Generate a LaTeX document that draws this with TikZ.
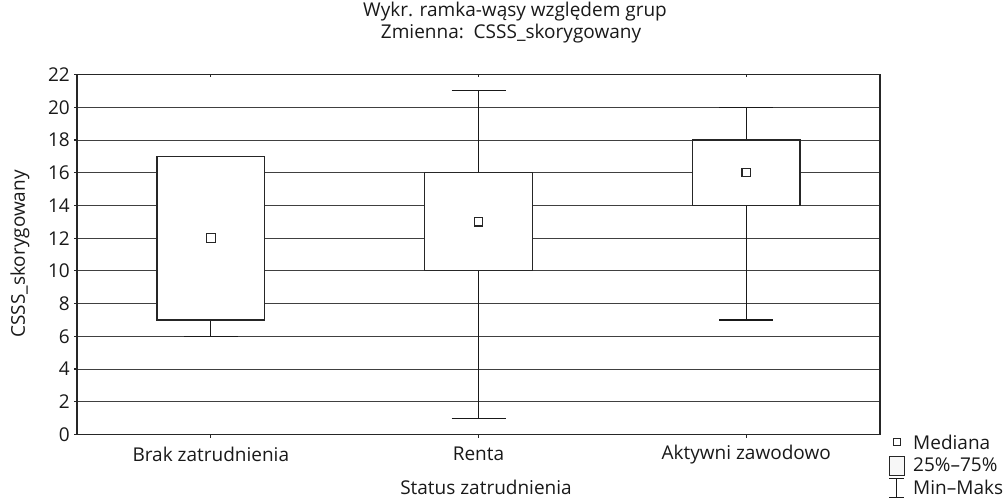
\documentclass[tikz,border=0pt]{standalone}
\usepackage{fontspec}
\setmainfont{Open Sans}
\usetikzlibrary{positioning}

\tikzset{
  grid line/.style={draw=black!75, line width=0.9pt},
  frame line/.style={draw=black!85, line width=1.1pt},
  box/.style={draw=black!85, fill=white, line width=1.1pt},
  whisker/.style={draw=black!90, line width=1.1pt},
  median/.style={draw=black!85, fill=white, line width=1.1pt, minimum size=8.5pt,
    inner sep=0pt, rectangle},
  lbl/.style={font=\fontsize{19}{22}\selectfont, text=black!90, inner sep=0pt}
}

\begin{document}
\begin{tikzpicture}[x=1pt,y=1pt]
  \useasboundingbox (0,0) rectangle (1008,498);
  % titles
  \node[lbl] (title) at (515,486) {Wykr. ramka-wąsy względem grup};
  \node[lbl] (subtitle) at (511,464) {Zmienna:\ \ CSSS\_skorygowany};
  \node[lbl] (xlabel) at (486,11) {Status zatrudnienia};
  \node[lbl, rotate=90] (ylabel) at (20,244) {CSSS\_skorygowany};
  \begin{scope}[shift={(77,63.5)}, y=16.3636pt]
    % grid
    \foreach \v in {2,4,...,20}
      \draw[grid line] (0,\v) -- (803,\v);
    \foreach \v in {0,2,...,22} {
      \draw[frame line] (-3,\v) -- (0,\v);
      \node[lbl, anchor=east] (ytick\v) at (-7,\v) {\v};
    }
    % boxes: name/center/min/q1/median/q3/max
    \foreach \nm/\c/\lo/\qa/\md/\qb/\hi/\txt in {
        brak/133.8/6/7/12/17/17/Brak zatrudnienia,
        renta/401.5/1/10/13/16/21/Renta,
        aktyw/669.2/7/14/16/18/20/Aktywni zawodowo} {
      \draw[whisker] (\c,\lo) -- (\c,\hi);
      \draw[whisker] (\c-27,\lo) -- (\c+27,\lo);
      \draw[whisker] (\c-27,\hi) -- (\c+27,\hi);
      \draw[box] (\c-53.8,\qa) rectangle (\c+53.8,\qb);
      \node[median] (med-\nm) at (\c,\md) {};
      \draw[frame line] (\c,0) -- (\c,-0.2);
      \draw[frame line] (\c,22) -- (\c,21.85);
      \node[lbl] (cat-\nm) at (\c,-1.2) {\txt};
    }
    % frame
    \draw[frame line] (0,0) rectangle (803,22);
  \end{scope}
  % legend
  \node[median, minimum size=6.5pt] (leg-med) at (897,56) {};
  \node[lbl, anchor=west] (leg-medtxt) at (913,56) {Mediana};
  \draw[draw=black!85, fill=black!3, line width=0.9pt] (889,23) rectangle (904,42);
  \node[lbl, anchor=west] (leg-boxtxt) at (913,33) {25\%–75\%};
  \draw[whisker, line width=0.9pt] (889,19.3) -- (904,19.3) (896.5,19.3) -- (896.5,0);
  \draw[whisker, line width=0.9pt] (889,0.5) -- (904,0.5);
  \node[lbl, anchor=west] (leg-whtxt) at (913,11) {Min–Maks};
\end{tikzpicture}
\end{document}
